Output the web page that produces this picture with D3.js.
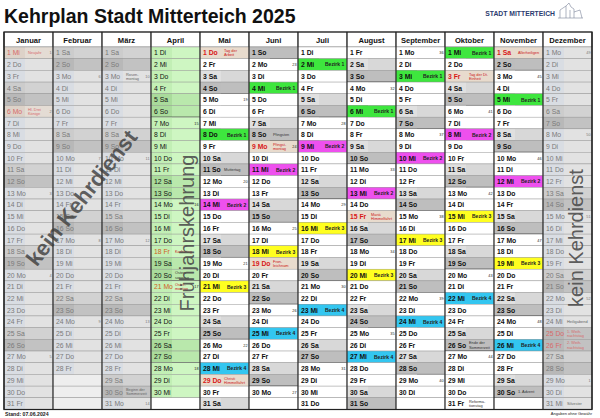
<!DOCTYPE html>
<html>
<head>
<meta charset="utf-8">
<script src="https://cdn.jsdelivr.net/npm/d3@7"></script>
<style>
  body { margin: 0; background: #fff; }
  svg { display: block; font-family: "Liberation Sans", Arial, sans-serif; }
</style>
</head>
<body>
<div id="chart"></div>
<script>
// Kehrplan 2025 - calendar table

const year = 2025;
const months = ["Januar", "Februar", "März", "April", "Mai", "Juni", "Juli",
  "August", "September", "Oktober", "November", "Dezember"];
const weekdays = ["So", "Mo", "Di", "Mi", "Do", "Fr", "Sa"];

// months without street cleaning (0-based index)
const inactiveMonths = [0, 1, 2, 11];
const springMonth = 3;

// [month (1-12), day, district]
const sweepDays = [
  [5, 8, 1], [5, 14, 2], [5, 21, 3], [5, 28, 4],
  [6, 4, 1], [6, 11, 2], [6, 18, 3], [6, 25, 4],
  [7, 2, 1], [7, 9, 2], [7, 16, 3], [7, 23, 4],
  [8, 6, 1], [8, 13, 2], [8, 20, 3], [8, 27, 4],
  [9, 3, 1], [9, 10, 2], [9, 17, 3], [9, 24, 4],
  [10, 1, 1], [10, 8, 2], [10, 15, 3], [10, 22, 4],
  [11, 5, 1], [11, 12, 2], [11, 19, 3], [11, 26, 4]
];
const districtColors = ["#3ee63e", "#ee50ee", "#ffff20", "#33c6f0"];

// public holidays [month, day, label]
const holidays = [
  [1, 1, "Neujahr"], [1, 6, "Hl. Drei\nKönige"], [4, 18, "Karfreitag"],
  [4, 21, "Oster-\nmontag"], [5, 1, "Tag der\nArbeit"], [5, 29, "Christi\nHimmelfahrt"],
  [6, 9, "Pfingst-\nmontag"], [6, 19, "Fron-\nleichnam"], [8, 15, "Mariä\nHimmelfahrt"],
  [10, 3, "Tag der Dt.\nEinheit"], [11, 1, "Allerheiligen"],
  [12, 25, "1. Weih-\nnachtstag"], [12, 26, "2. Weih-\nnachtstag"]
];

// other notes [month, day, label]
const notes = [
  [3, 3, "Rosen-\nmontag"], [3, 30, "Beginn der\nSommerzeit"], [4, 20, "Oster-\nsonntag"],
  [5, 11, "Muttertag"], [6, 8, "Pfingsten"], [10, 26, "Ende der\nSommerzeit"],
  [10, 31, "Reforma-\ntionstag"], [11, 30, "1. Advent"], [12, 24, "Heiligabend"],
  [12, 31, "Silvester"]
];

const width = 600, height = 418;
const svg = d3.select("#chart").append("svg")
  .attr("width", width).attr("height", height);

const x = d3.scaleBand().domain(d3.range(12)).range([4, 592]);
const y = d3.scaleBand().domain(d3.range(1, 32)).range([47, 409.5]);
const cw = x.bandwidth(), rh = y.bandwidth();
const kw = d3.timeFormat("%V");

const key = (m, d) => m + "-" + d;
const sweepMap = new Map(sweepDays.map(s => [key(s[0], s[1]), s[2]]));
const holMap = new Map(holidays.map(h => [key(h[0], h[1]), h[2]]));
const noteMap = new Map(notes.map(n => [key(n[0], n[1]), n[2]]));

// title
svg.append("text").attr("x", 4).attr("y", 23)
  .attr("font-size", 19.5).attr("font-weight", "bold").attr("fill", "#111")
  .text("Kehrplan Stadt Mitterteich " + year);

// logo
svg.append("text").attr("x", 555).attr("y", 16).attr("text-anchor", "end")
  .attr("font-size", 6.8).attr("font-weight", "bold").attr("fill", "#2c3b70")
  .text("STADT MITTERTEICH");
svg.append("path")
  .attr("d", "M560,18 L560,10 L566,6 L569,3 L571,7 L574,9 L574,18 M566,6 L566,18 M570,10 L570,18 M574,12 L580,10 L582,18 M558,18 L583,18")
  .attr("fill", "none").attr("stroke", "#7a8399").attr("stroke-width", 0.6);

// header
const header = svg.append("g");
header.selectAll("rect").data(months).join("rect")
  .attr("x", (d, i) => x(i)).attr("y", 32).attr("width", cw).attr("height", 47 - 32)
  .attr("fill", "#fff").attr("stroke", "#555").attr("stroke-width", 0.6);
header.selectAll("text").data(months).join("text")
  .attr("x", (d, i) => x(i) + cw / 2).attr("y", 42.5).attr("text-anchor", "middle")
  .attr("font-size", 7.6).attr("font-weight", "bold").attr("fill", "#111")
  .text(d => d);

// build cells
const cells = [];
months.forEach(function(name, m) {
  const nDays = new Date(year, m + 1, 0).getDate();
  d3.range(1, 32).forEach(function(d) {
    cells.push({ m: m, d: d, date: d <= nDays ? new Date(year, m, d) : null });
  });
});

const body = svg.append("g");
cells.forEach(function(c) {
  const g = body.append("g").attr("transform", "translate(" + x(c.m) + "," + y(c.d) + ")");
  const inactive = inactiveMonths.includes(c.m);
  if (!c.date) {
    g.append("rect").attr("width", cw).attr("height", rh)
      .attr("fill", inactive ? "#eeeeee" : "#fff").attr("stroke", "#888").attr("stroke-width", 0.4);
    return;
  }
  const wd = c.date.getDay();
  const k = key(c.m + 1, c.d);
  const hol = holMap.get(k);
  const district = sweepMap.get(k);
  const note = hol || noteMap.get(k);
  const sunday = wd === 0 || (hol && inactive);

  let fill, leftFill;
  if (inactive) {
    fill = sunday ? "#c2c2c2" : wd === 6 ? "#d2d2d2" : "#e2e2e2";
    leftFill = sunday ? "#b8b8b8" : wd === 6 ? "#cccccc" : "#d9dde3";
    if (hol && c.m === 0) { fill = "#e4dcd4"; leftFill = "#ddd2c8"; }
  } else if (c.m === springMonth) {
    fill = (wd === 0 || wd === 6) ? "#b9e8ac" : "#cef6c2";
    leftFill = (wd === 0 || wd === 6) ? "#a9db9b" : "#c2efb5";
  } else {
    fill = wd === 0 ? "#bebebe" : wd === 6 ? "#d8d8d8" : "#ffffff";
    leftFill = wd === 0 ? "#bdbdbd" : wd === 6 ? "#e0e0e0" : "#ffffff";
    if (hol) { fill = "#e8dbcd"; leftFill = "#e8dbcd"; }
  }
  if (district) { fill = districtColors[district - 1]; leftFill = fill; }

  g.append("rect").attr("width", cw).attr("height", rh).attr("fill", fill);
  g.append("rect").attr("width", 21).attr("height", rh).attr("fill", leftFill);
  g.append("rect").attr("width", cw).attr("height", rh).attr("fill", "none")
    .attr("stroke", "#8a8a8a").attr("stroke-width", 0.4);

  let textColor = inactive ? "#7a7a7a" : "#111";
  if (hol) textColor = inactive ? "#d86a6a" : c.m === springMonth ? "#d0601c" : "#d81818";
  g.append("text").attr("x", 3).attr("y", rh / 2 + 2.6)
    .attr("font-size", 6.8).attr("font-weight", inactive || c.m === springMonth ? "normal" : "bold")
    .attr("fill", textColor)
    .text(c.d + " " + weekdays[wd]);

  if (district) {
    g.append("text").attr("x", 27).attr("y", rh / 2 + 1.9)
      .attr("font-size", 5).attr("font-weight", "bold").attr("fill", "#222")
      .text("Bezirk " + district);
  } else if (note) {
    const lines = note.split("\n");
    const t = g.append("text").attr("font-size", 3.9)
      .attr("fill", hol ? (inactive ? "#d86a6a" : "#cc2020") : (inactive ? "#666" : "#333"));
    lines.forEach(function(l, i) {
      t.append("tspan").attr("x", 24)
        .attr("y", rh / 2 + 1.4 + (i - (lines.length - 1) / 2) * 4.2).text(l);
    });
  }

  if (wd === 1 || (c.m === 0 && c.d === 1)) {
    g.append("text").attr("x", cw - 1.5).attr("y", rh / 2 + 1.6).attr("text-anchor", "end")
      .attr("font-size", 3.8).attr("fill", inactive ? "#777" : "#222")
      .text(+kw(c.date));
  }

  // heavier line at end of each week
  if (wd === 0 && !inactive) {
    g.append("line").attr("x1", 0).attr("x2", cw).attr("y1", rh).attr("y2", rh)
      .attr("stroke", "#333").attr("stroke-width", 0.9);
  }
});

// month separators and frame
svg.append("g").selectAll("line").data(d3.range(13)).join("line")
  .attr("x1", i => i < 12 ? x(i) : x(11) + cw).attr("x2", i => i < 12 ? x(i) : x(11) + cw)
  .attr("y1", 32).attr("y2", 409.5)
  .attr("stroke", "#222").attr("stroke-width", 1.1);
svg.append("rect").attr("x", 4).attr("y", 32).attr("width", 588).attr("height", 409.5 - 32)
  .attr("fill", "none").attr("stroke", "#222").attr("stroke-width", 1.2);

// overlay labels
svg.append("text")
  .attr("transform", "translate(83,199) rotate(-52)")
  .attr("text-anchor", "middle").attr("dominant-baseline", "middle")
  .attr("font-size", 22).attr("font-weight", "bold").attr("fill", "#3a3a3a").attr("fill-opacity", 0.8)
  .text("kein Kehrdienst");
svg.append("text")
  .attr("transform", "translate(189,233) rotate(-90)")
  .attr("text-anchor", "middle").attr("dominant-baseline", "middle")
  .attr("font-size", 20).attr("fill", "#4a4a4a").attr("fill-opacity", 0.9)
  .text("Frühjahrskehrung");
svg.append("text")
  .attr("transform", "translate(578,238) rotate(-90)")
  .attr("text-anchor", "middle").attr("dominant-baseline", "middle")
  .attr("font-size", 20).attr("fill", "#4a4a4a").attr("fill-opacity", 0.9)
  .text("kein Kehrdienst");

// footer
svg.append("text").attr("x", 5).attr("y", 416).attr("font-size", 5.2)
  .attr("font-weight", "bold").attr("fill", "#222").text("Stand:   07.06.2024");
svg.append("text").attr("x", 592).attr("y", 414.5).attr("text-anchor", "end")
  .attr("font-size", 4).attr("fill", "#222").text("Angaben ohne Gewähr");
</script>
</body>
</html>
